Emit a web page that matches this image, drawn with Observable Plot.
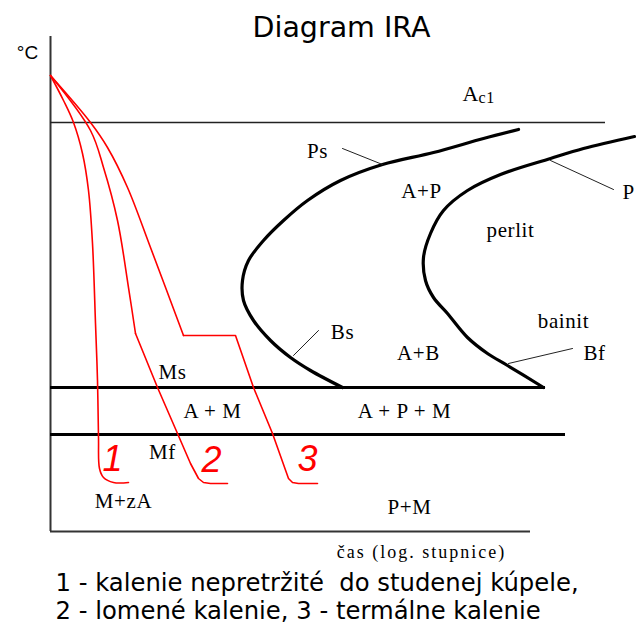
<!DOCTYPE html>
<html>
<head>
<meta charset="utf-8">
<script src="https://cdn.jsdelivr.net/npm/d3@7"></script>
<script src="https://cdn.jsdelivr.net/npm/@observablehq/plot@0.6"></script>
<style>
html, body { margin: 0; padding: 0; background: #fff; }
</style>
</head>
<body>
<div id="chart"></div>
<script>
// Schematic units: x = time (arbitrary, log scale sketch), y = temperature (arbitrary)
const tempAc1 = 409;
const tempMs = 144;
const tempMf = 97;
const ac1End = 555;
const msEnd = 495;
const mfEnd = 515;
const axisTimeEnd = 480;
const axisTempTop = 495;

// transformation start curve (Ps -> Bs)
const startCurve = [[468,402],[433,393],[383,379],[332,367],[290,351],[257,331],[233,311],[213,291],[198,271],[192,251],[193,231],[203,211],[220,191],[240,174],[260,161],[292,144]];
// transformation finish curve (Pf -> Bf)
const finishCurve = [[584,395],[533,383],[500,373],[450,357],[417,341],[393,321],[380,298],[373,274],[375,251],[383,234],[397,218],[417,194],[437,178],[457,166],[493,144]];

// cooling curves (smooth upper part, straight lower part)
const cooling1 = [[0,456],[13,431],[23,409],[32,378],[38,341],[42,288],[45,208],[47,151],[48,94],[49,63],[53,54],[63,49],[78,49]];
const cooling2Upper = [[0,456],[40,401],[53,364],[67,311],[78,244],[85,198]];
const cooling2Lower = [[85,198],[107,144],[127,98],[140,68],[148,53],[153,49],[160,48],[177,48]];
const cooling3Upper = [[0,456],[40,409],[57,384],[77,344],[100,284],[133,196]];
const cooling3Lower = [[133,196],[185,196],[203,144],[222,98],[238,53],[242,49],[248,48],[267,48]];

// leader lines
const leaders = [
  [[292,383],[332,367]],
  [[500,371],[563,342]],
  [[243,176],[268,201]],
  [[458,168],[522,183]]
];

// region labels (serif)
const labelText = ["Ps","A+P","perlit","bainit","Bs","A+B","Bf","A + P + M","P+M","Ms","A + M","Mf","M+zA"];
const labelX =    [267, 371, 460, 513, 292, 368, 544, 354, 359, 122, 162, 112, 73];
const labelY =    [374, 334, 295, 204, 193, 172, 172, 114, 18, 153, 114, 73, 24];

const curveNums = ["1","2","3"];
const curveNumX = [62, 161, 257];
const curveNumY = [61, 60, 61];

const title = "Diagram IRA";
const yUnit = "°C";
const xTitle = "čas (log. stupnice)";
const captionLines = ["1 - kalenie nepretržité  do studenej kúpele,", "2 - lomené kalenie, 3 - termálne kalenie"];

const xy = {x: d => d[0], y: d => d[1]};
const serif = "Liberation Serif, Times New Roman, serif";
const serif2 = "Liberation Serif, Times, serif";
const sans = "Liberation Sans, Arial, sans-serif";
const dejavu = "DejaVu Sans, Verdana, sans-serif";

const labels = labelText.map((t, i) => ({t, x: labelX[i], y: labelY[i]}));
const nums = curveNums.map((t, i) => ({t, x: curveNumX[i], y: curveNumY[i]}));

const plot = Plot.plot({
  width: 636,
  height: 631,
  margin: 0,
  x: {domain: [-50, 586], axis: null},
  y: {domain: [-100, 531], axis: null},
  style: {background: "#fff"},
  marks: [
    // axes
    Plot.ruleX([0], {y1: 0, y2: axisTempTop, stroke: "#333", strokeWidth: 2}),
    Plot.ruleY([0], {x1: 0, x2: axisTimeEnd, stroke: "#333", strokeWidth: 2}),
    // Ac1, Ms, Mf
    Plot.ruleY([tempAc1], {x1: 0, x2: ac1End, stroke: "#222", strokeWidth: 1.3}),
    Plot.ruleY([tempMs], {x1: 0, x2: msEnd, stroke: "#000", strokeWidth: 3.2}),
    Plot.ruleY([tempMf], {x1: 0, x2: mfEnd, stroke: "#000", strokeWidth: 3.2}),
    // C curves
    Plot.line(startCurve, {...xy, curve: "catmull-rom", stroke: "#000", strokeWidth: 3.2}),
    Plot.line(finishCurve, {...xy, curve: "catmull-rom", stroke: "#000", strokeWidth: 3.2}),
    // leaders
    ...leaders.map(l => Plot.line(l, {...xy, stroke: "#222", strokeWidth: 1})),
    // cooling curves
    Plot.line(cooling1, {...xy, curve: "catmull-rom", stroke: "#ff0000", strokeWidth: 1.6}),
    Plot.line(cooling2Upper, {...xy, curve: "catmull-rom", stroke: "#ff0000", strokeWidth: 1.6}),
    Plot.line(cooling2Lower, {...xy, curve: "linear", stroke: "#ff0000", strokeWidth: 1.6}),
    Plot.line(cooling3Upper, {...xy, curve: "catmull-rom", stroke: "#ff0000", strokeWidth: 1.6}),
    Plot.line(cooling3Lower, {...xy, curve: "linear", stroke: "#ff0000", strokeWidth: 1.6}),
    // labels
    Plot.text(labels, {x: "x", y: "y", text: "t", fontFamily: serif, fontSize: 21, fill: "#000", lineAnchor: "bottom", textAnchor: "middle"}),
    Plot.text(["A"], {x: 412, y: 431, text: d => d, fontFamily: serif, fontSize: 22, textAnchor: "start", lineAnchor: "bottom"}),
    Plot.text(["c1"], {x: 428, y: 431, text: d => d, fontFamily: serif, fontSize: 16, textAnchor: "start", lineAnchor: "bottom", dy: 2}),
    Plot.text(["P"], {x: 572, y: 333, text: d => d, fontFamily: serif, fontSize: 21, textAnchor: "start", lineAnchor: "bottom"}),
    Plot.text(nums, {x: "x", y: "y", text: "t", fontFamily: sans, fontStyle: "italic", fontSize: 36, fill: "#ff0000", textAnchor: "middle", lineAnchor: "bottom"}),
    // titles
    Plot.text([title], {x: 291, y: 495, text: d => d, fontFamily: dejavu, fontSize: 28.5, textAnchor: "middle", lineAnchor: "bottom", fill: "#000"}),
    Plot.text([yUnit], {x: -23, y: 473, text: d => d, fontFamily: sans, fontSize: 19, textAnchor: "middle", lineAnchor: "bottom", fill: "#000"}),
    Plot.text([xTitle], {x: 371, y: -26, text: d => d, fontFamily: serif2, fontSize: 18, textAnchor: "middle", lineAnchor: "bottom", fill: "#000"}),
    Plot.text([captionLines[0]], {x: 5, y: -59, text: d => d, fontFamily: dejavu, fontSize: 24.3, textAnchor: "start", lineAnchor: "bottom", fill: "#000"}),
    Plot.text([captionLines[1]], {x: 5, y: -87, text: d => d, fontFamily: dejavu, fontSize: 24.3, textAnchor: "start", lineAnchor: "bottom", fill: "#000"})
  ]
});
d3.select(plot).selectAll(`g[font-family="${serif}"]`).attr("letter-spacing", "0.6px");
d3.select(plot).selectAll(`g[font-family="${serif2}"]`).attr("letter-spacing", "2px");
document.getElementById("chart").appendChild(plot);
</script>
</body>
</html>
